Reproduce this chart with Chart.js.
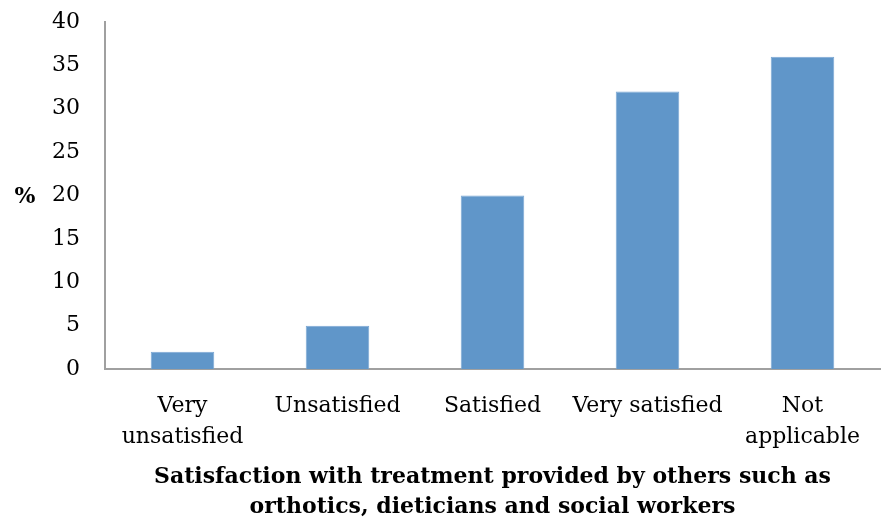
<!DOCTYPE html>
<html><head><meta charset="utf-8">
<script src="https://cdn.jsdelivr.net/npm/chart.js@4"></script>
<style>html,body{margin:0;padding:0;background:#fff}#wrap{width:882px;height:522px}</style>
</head><body><div id="wrap"><canvas id="c" width="882" height="522"></canvas></div>
<script>
const categories = [["Very","unsatisfied"],"Unsatisfied","Satisfied","Very satisfied",["Not","applicable"]];
const values = [2, 5, 20, 32, 36];
const yTicks = [0,5,10,15,20,25,30,35,40];
const xTitle = ["Satisfaction with treatment provided by others such as","orthotics, dieticians and social workers"];
const yTitle = "%";
const FONT = "'DejaVu Serif', serif";

const pctPlugin = {
  id: 'pct',
  afterDraw(chart){
    const ctx = chart.ctx;
    ctx.save();
    ctx.font = "bold 22px " + FONT;
    ctx.fillStyle = '#000';
    ctx.textAlign = 'center';
    ctx.textBaseline = 'middle';
    ctx.fillText(yTitle, 25, 197);
    ctx.restore();
  }
};

new Chart(document.getElementById('c'), {
  type: 'bar',
  data: { labels: categories, datasets: [{ data: values, backgroundColor: '#6096C9', borderColor: '#7BA7D3', borderWidth: 1, barPercentage: 0.41, categoryPercentage: 1 }] },
  options: {
    responsive: false, animation: false,
    layout: { padding: { left: 0, right: 2, top: 22, bottom: 0 } },
    plugins: { legend: { display: false }, tooltip: { enabled: false } },
    scales: {
      x: {
        afterFit(s){ s.height = 153; },
        grid: { display: false },
        border: { color: '#A0A0A0', width: 2 },
        ticks: { color: '#000', font: { family: FONT, size: 22, lineHeight: 1.4 }, padding: 14, maxRotation: 0, autoSkip: false },
        title: { display: true, text: xTitle, color: '#000', font: { family: FONT, size: 22, weight: 'bold', lineHeight: 1.37 }, padding: { top: 4, bottom: 0 } }
      },
      y: {
        min: 0, max: 40,
        afterFit(s){ s.width = 105; s.paddingTop = 0; s.paddingBottom = 0; },
        afterBuildTicks(s){ s.ticks = yTicks.map(v => ({ value: v })); },
        grid: { display: false },
        border: { color: '#A0A0A0', width: 2 },
        ticks: { color: '#000', font: { family: FONT, size: 22 }, padding: 17 }
      }
    }
  },
  plugins: [pctPlugin]
});
</script></body></html>
